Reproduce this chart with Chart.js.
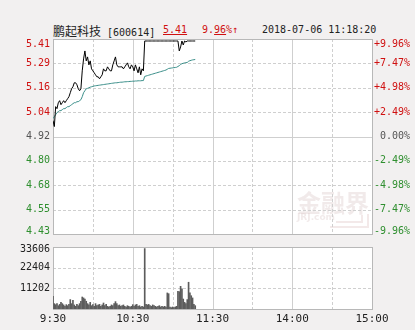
<!DOCTYPE html>
<html>
<head>
<meta charset="utf-8">
<script src="https://cdn.jsdelivr.net/npm/chart.js@4/dist/chart.umd.min.js"></script>
<style>
  body { margin: 0; width: 415px; height: 330px; overflow: hidden; position: relative; background: #f2f0f0; }
  canvas { position: absolute; left: 0; }
  #priceChart { top: 0; }
  #volChart { top: 240px; }
  .head { position: absolute; top: 22px; font: 10px 'DejaVu Sans Mono', monospace; color: #222; white-space: nowrap; line-height: 16px; }
  .cjk { font: 12px 'Noto Sans CJK SC', sans-serif; }
  .red { color: #d01010; }
  .ul { text-decoration: underline; }
</style>
</head>
<body>
<div class="head" style="left:53px"><span class="cjk">鹏起科技</span> [600614]</div>
<div class="head red ul" style="left:163px">5.41</div>
<div class="head red" style="left:202px">9.<span class="ul">96</span>%↑</div>
<div class="head" style="left:262px">2018-07-06 11:18:20</div>
<canvas id="priceChart" width="415" height="240"></canvas>
<canvas id="volChart" width="415" height="90"></canvas>
<script>
// minutes since 9:30 (0..107), 1 point per minute
const prices = [
  5.00, 4.97, 5.07, 5.06, 5.09, 5.10, 5.08, 5.09, 5.10, 5.09,
  5.10, 5.11, 5.12, 5.14, 5.16, 5.17, 5.19, 5.19, 5.18, 5.16,
  5.15, 5.16, 5.25, 5.31, 5.35, 5.30, 5.32, 5.28, 5.30, 5.26,
  5.25, 5.24, 5.23, 5.22, 5.22, 5.21, 5.22, 5.23, 5.26, 5.25,
  5.25, 5.27, 5.26, 5.25, 5.25, 5.28, 5.30, 5.32, 5.28, 5.27,
  5.27, 5.27, 5.27, 5.26, 5.27, 5.28, 5.29, 5.27, 5.26, 5.28,
  5.27, 5.25, 5.28, 5.26, 5.24, 5.27, 5.23, 5.26, 5.25, 5.40,
  5.40, 5.40, 5.40, 5.40, 5.40, 5.40, 5.40, 5.40, 5.40, 5.40,
  5.40, 5.40, 5.40, 5.40, 5.40, 5.40, 5.40, 5.40, 5.40, 5.40,
  5.40, 5.40, 5.40, 5.40, 5.40, 5.35, 5.37, 5.40, 5.38, 5.40,
  5.395, 5.40, 5.40, 5.40, 5.40, 5.40, 5.40, 5.40
];
const avgPrices = [
  5.01, 5.02, 5.03, 5.04, 5.045, 5.05, 5.05, 5.055, 5.06, 5.06,
  5.065, 5.07, 5.07, 5.075, 5.08, 5.085, 5.09, 5.09, 5.095, 5.095,
  5.10, 5.105, 5.12, 5.14, 5.15, 5.16, 5.162, 5.165, 5.168, 5.17,
  5.172, 5.174, 5.175, 5.176, 5.177, 5.178, 5.179, 5.18, 5.181, 5.182,
  5.183, 5.184, 5.185, 5.186, 5.187, 5.188, 5.189, 5.19, 5.19, 5.191,
  5.192, 5.193, 5.193, 5.194, 5.195, 5.195, 5.196, 5.196, 5.197, 5.197,
  5.198, 5.198, 5.199, 5.199, 5.20, 5.20, 5.20, 5.201, 5.201, 5.222,
  5.224, 5.226, 5.228, 5.23, 5.232, 5.234, 5.236, 5.238, 5.24, 5.242,
  5.244, 5.246, 5.248, 5.25, 5.252, 5.254, 5.258, 5.262, 5.263, 5.264,
  5.265, 5.266, 5.267, 5.268, 5.272, 5.276, 5.282, 5.286, 5.288, 5.29,
  5.291, 5.292, 5.298, 5.301, 5.303, 5.305, 5.306, 5.307
];
const volumes = [
  6900, 2900, 2350, 2900, 1800, 2500, 3600, 2900, 2200, 1450,
  2350, 1800, 2500, 5100, 2900, 4700, 2200, 1450, 2500, 1800,
  2900, 4200, 6500, 6000, 5400, 4200, 2900, 2200, 3600, 1800,
  2350, 1450, 2900, 1800, 2200, 2500, 1450, 2200, 3250, 1800,
  2500, 1450, 1100, 1450, 2200, 1800, 2900, 4000, 2900, 1800,
  2200, 1450, 1800, 2200, 1450, 1100, 1800, 1450, 1100, 1450,
  2350, 1450, 2200, 2500, 1450, 1800, 1100, 1450, 1100, 32760,
  2500, 2200, 2500, 1800, 1450, 2200, 1800, 1450, 1100, 1450,
  1800, 1100, 1450, 1100, 1450, 1100, 8700, 8300, 1100, 720,
  1100, 720, 1100, 1450, 9600, 9400, 12300, 10900, 5400, 3600,
  2900, 5100, 14500, 8700, 7200, 6000, 2500, 1800
];

const priceTicks = ['5.41', '5.29', '5.16', '5.04', '4.92', '4.80', '4.68', '4.55', '4.43'];
const pctTicks = ['+9.96%', '+7.47%', '+4.98%', '+2.49%', '0.00%', '-2.49%', '-4.98%', '-7.47%', '-9.96%'];
const volTicks = [33606, 22404, 11202];
const timeTicks = [0, 30, 60, 90, 120, 150, 180, 210, 240];
const timeLabels = { 0: '9:30', 60: '10:30', 120: '11:30', 180: '14:00', 240: '15:00' };

const RED = '#d01010', GREEN = '#2f8f2f', GRAY = '#555';
const MONO = "10px 'DejaVu Sans Mono', monospace";

function hline(ctx, a, y, dashed) {
  ctx.setLineDash(dashed ? [3, 2] : []);
  ctx.beginPath();
  ctx.moveTo(a.left, Math.round(y) + 0.5);
  ctx.lineTo(a.right, Math.round(y) + 0.5);
  ctx.stroke();
}

function vlines(ctx, a, xs) {
  timeTicks.forEach(t => {
    const x = Math.round(xs.getPixelForValue(t)) + 0.5;
    ctx.setLineDash(t % 60 === 0 ? [] : [3, 2]);
    ctx.beginPath();
    ctx.moveTo(x, a.top);
    ctx.lineTo(x, a.bottom);
    ctx.stroke();
  });
}

function border(ctx, a) {
  ctx.setLineDash([]);
  ctx.strokeStyle = '#b8b8b8';
  ctx.strokeRect(Math.round(a.left) + 0.5, Math.round(a.top) + 0.5,
    Math.round(a.right - a.left), Math.round(a.bottom - a.top));
}

// grid + labels for the price panel
const priceGrid = {
  id: 'priceGrid',
  beforeDatasetsDraw(chart) {
    const { ctx, chartArea: a, scales } = chart;
    ctx.save();
    ctx.fillStyle = '#fff';
    ctx.fillRect(a.left, a.top, a.right - a.left, a.bottom - a.top);
    // watermark
    ctx.fillStyle = 'rgba(215,195,195,0.35)';
    ctx.font = "bold 24px 'Noto Sans CJK SC', sans-serif";
    ctx.textBaseline = 'middle';
    ctx.fillText('金融界', 297, 203);
    ctx.font = "bold 9px 'DejaVu Sans', sans-serif";
    ctx.fillText('JRJ.com', 297, 218);
    ctx.lineWidth = 2;
    ctx.strokeStyle = 'rgba(225,200,200,0.4)';
    ctx.beginPath();
    ctx.moveTo(336, 222); ctx.lineTo(362, 222); ctx.lineTo(362, 215);
    ctx.moveTo(330, 227); ctx.lineTo(368, 227); ctx.lineTo(368, 214);
    ctx.stroke();
    ctx.lineWidth = 1;
    ctx.strokeStyle = '#cfcfcf';
    const rows = priceTicks.length - 1;
    for (let i = 1; i < rows; i++) {
      const y = a.top + (a.bottom - a.top) * i / rows;
      hline(ctx, a, y, i !== rows / 2);
    }
    vlines(ctx, a, scales.x);
    border(ctx, a);
    ctx.restore();
  },
  afterDraw(chart) {
    const { ctx, chartArea: a } = chart;
    const rows = priceTicks.length - 1;
    ctx.save();
    ctx.font = MONO;
    ctx.textBaseline = 'middle';
    priceTicks.forEach((lbl, i) => {
      let y = a.top + (a.bottom - a.top) * i / rows;
      if (i === 0) y += 5;
      if (i === rows) y -= 3;
      const c = i < rows / 2 ? RED : (i === rows / 2 ? GRAY : GREEN);
      ctx.fillStyle = c;
      ctx.textAlign = 'right';
      ctx.fillText(lbl, a.left - 3, y);
      ctx.fillText(pctTicks[i], 410, y);
    });
    ctx.restore();
  }
};

const volGrid = {
  id: 'volGrid',
  beforeDatasetsDraw(chart) {
    const { ctx, chartArea: a, scales } = chart;
    ctx.save();
    ctx.fillStyle = '#fff';
    ctx.fillRect(a.left, a.top, a.right - a.left, a.bottom - a.top);
    ctx.lineWidth = 1;
    ctx.strokeStyle = '#cfcfcf';
    volTicks.slice(1).forEach(v => hline(ctx, a, scales.y.getPixelForValue(v), true));
    vlines(ctx, a, scales.x);
    border(ctx, a);
    ctx.restore();
  },
  afterDraw(chart) {
    const { ctx, chartArea: a, scales } = chart;
    ctx.save();
    ctx.font = MONO;
    ctx.fillStyle = '#222';
    ctx.textBaseline = 'middle';
    ctx.textAlign = 'right';
    volTicks.forEach((v, i) => {
      let y = scales.y.getPixelForValue(v);
      if (i === 0) y += 2;
      ctx.fillText(String(v), a.left - 3, y);
    });
    ctx.font = "11px 'DejaVu Sans Mono', monospace";
    ctx.textAlign = 'center';
    Object.keys(timeLabels).forEach(t => {
      ctx.fillText(timeLabels[t], scales.x.getPixelForValue(+t), a.bottom + 10);
    });
    ctx.restore();
  }
};

new Chart(document.getElementById('priceChart'), {
  type: 'line',
  data: {
    datasets: [{
      data: prices.map((p, i) => ({ x: i, y: p })),
      borderColor: '#000',
      borderWidth: 1,
      pointRadius: 0,
      tension: 0
    }, {
      data: avgPrices.map((p, i) => ({ x: i, y: p })),
      borderColor: '#3b8f8a',
      borderWidth: 1,
      pointRadius: 0,
      tension: 0
    }]
  },
  options: {
    responsive: false,
    animation: false,
    layout: { padding: { left: 53, right: 43, top: 39, bottom: 6 } },
    plugins: { legend: { display: false }, tooltip: { enabled: false } },
    scales: {
      x: { type: 'linear', min: 0, max: 240, display: false },
      y: { min: 4.43, max: 5.41, display: false }
    }
  },
  plugins: [priceGrid]
});

new Chart(document.getElementById('volChart'), {
  type: 'bar',
  data: {
    datasets: [{
      data: volumes.map((v, i) => ({ x: i, y: v })),
      backgroundColor: '#5c5c5c',
      barThickness: 1
    }]
  },
  options: {
    responsive: false,
    animation: false,
    layout: { padding: { left: 53, right: 43, top: 7, bottom: 21 } },
    plugins: { legend: { display: false }, tooltip: { enabled: false } },
    scales: {
      x: { type: 'linear', min: 0, max: 240, display: false, offset: false },
      y: { min: 0, max: 33606, display: false }
    }
  },
  plugins: [volGrid]
});
</script>
</body>
</html>
